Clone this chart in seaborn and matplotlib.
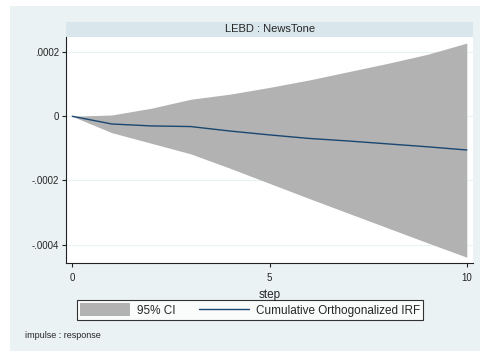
import matplotlib
matplotlib.use("Agg")
import matplotlib.pyplot as plt
import seaborn as sns
import pandas as pd
import numpy as np
from matplotlib.patches import Rectangle, Patch
from matplotlib.lines import Line2D

# data
step = [0, 1, 2, 3, 4, 5, 6, 7, 8, 9, 10]
irf = [0, -0.000024, -0.000030, -0.000032, -0.000046, -0.000058,
       -0.000069, -0.000077, -0.000086, -0.000095, -0.000105]
ci_lower = [0, -0.000051, -0.000084, -0.000117, -0.000162, -0.000209,
            -0.000256, -0.000302, -0.000348, -0.000394, -0.000439]
ci_upper = [0, 0.000004, 0.000025, 0.000053, 0.000069, 0.000090,
            0.000113, 0.000139, 0.000165, 0.000193, 0.000228]
yticks = [-0.0004, -0.0002, 0, 0.0002]
ytick_labels = ["-.0004", "-.0002", "0", ".0002"]
xticks = [0, 5, 10]

df = pd.DataFrame({"step": step, "irf": irf, "lo": ci_lower, "hi": ci_upper})

sns.set_style("white")
plt.rcParams["font.family"] = ["Liberation Sans", "DejaVu Sans"]

bg = "#EAF2F3"
strip = "#D9E6EB"
grey = "#B2B2B2"
navy = "#1A476F"

fig = plt.figure(figsize=(4.81, 3.51), dpi=100)
fig.patch.set_facecolor("white")
W, H = 481, 351
# graph region background
fig.patches.append(Rectangle((10 / W, 0), 1 - 10 / W, 1 - 6 / H,
                             transform=fig.transFigure, facecolor=bg,
                             edgecolor="none", zorder=-2))
# title strip
fig.patches.append(Rectangle((66 / W, 1 - 37 / H), (472.7 - 66) / W, 15 / H,
                             transform=fig.transFigure, facecolor=strip,
                             edgecolor="none", zorder=-1))

ax = fig.add_axes([66 / W, 1 - 263.3 / H, (472.7 - 66) / W, (263.3 - 37) / H])
ax.set_zorder(1)
ax.set_facecolor("white")

ax.fill_between(df["step"], df["lo"], df["hi"], color=grey, linewidth=0, zorder=2)
sns.lineplot(data=df, x="step", y="irf", color=navy, linewidth=1.0, ax=ax, zorder=3)

ax.set_xlim(-0.16, 10.15)
ax.set_ylim(-0.000458, 0.000247)
ax.set_yticks(yticks)
ax.set_yticklabels(ytick_labels)
ax.set_xticks(xticks)
ax.grid(axis="y", color=bg, linewidth=0.8, zorder=1)
ax.set_axisbelow(True)
for s in ["top", "right"]:
    ax.spines[s].set_visible(False)
for s in ["left", "bottom"]:
    ax.spines[s].set_color("#222222")
    ax.spines[s].set_linewidth(0.8)
ax.tick_params(axis="both", length=3, width=0.8, color="#222222",
               labelsize=7, left=True, bottom=True)
ax.tick_params(axis="x", pad=4)
ax.tick_params(axis="y", pad=2)
ax.set_xlabel("step", fontsize=8.5, labelpad=4)
ax.set_ylabel("")

fig.text(270 / W, 1 - 29.5 / H, "LEBD : NewsTone", ha="center", va="center",
         fontsize=8)

handles = [Patch(facecolor=grey, edgecolor="none"),
           Line2D([0], [0], color=navy, linewidth=1.0)]
leg = fig.legend(handles, ["95% CI", "Cumulative Orthogonalized IRF"],
                 loc="center", bbox_to_anchor=(250 / W, 1 - 310 / H), ncol=2,
                 fontsize=8.5, frameon=True, fancybox=False, handlelength=4.2,
                 handleheight=1.3, columnspacing=2.0, handletextpad=0.6,
                 borderpad=0.3)
leg.get_frame().set_edgecolor("black")
leg.get_frame().set_linewidth(0.8)
leg.get_frame().set_facecolor("white")

fig.text(25 / W, 1 - 336 / H, "impulse : response", ha="left", va="center",
         fontsize=6.5)

fig.savefig("out.png", dpi=100)
